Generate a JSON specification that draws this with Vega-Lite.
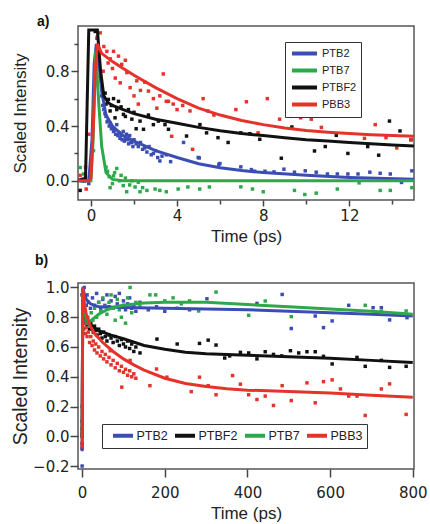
{
"$schema":"https://vega.github.io/schema/vega-lite/v6.json",
"padding":{"left":9,"top":14,"right":0,"bottom":4},
"spacing":8,
"config":{"font":"Liberation Sans","view":{"stroke":"#555","strokeWidth":1.5},
"axis":{"domain":false,"grid":false,"labelFont":"DejaVu Sans","labelFontSize":15,"labelColor":"#222","titleFontSize":17,"titleFontWeight":"normal","titleColor":"#222","tickColor":"#444","tickWidth":1.5,"tickSize":7,"labelPadding":2,"labelOverlap":false},
"title":{"fontSize":14,"fontWeight":"bold","anchor":"start","frame":"group","color":"#111"}},
"resolve":{"scale":{"color":"independent"},"legend":{"color":"independent"}},
"datasets":{
"aP":[
{"s":"PTB2","t":-0.4,"v":0.0},{"s":"PTB2","t":-0.25,"v":0.02},{"s":"PTB2","t":-0.1,"v":-0.02},{"s":"PTB2","t":0.28,"v":1.04},{"s":"PTB2","t":0.35,"v":0.94},{"s":"PTB2","t":0.43,"v":0.76},{"s":"PTB2","t":0.5,"v":0.62},{"s":"PTB2","t":0.55,"v":0.55},{"s":"PTB2","t":0.6,"v":0.52},{"s":"PTB2","t":0.65,"v":0.49},{"s":"PTB2","t":0.7,"v":0.47},{"s":"PTB2","t":0.75,"v":0.43},{"s":"PTB2","t":0.8,"v":0.44},{"s":"PTB2","t":0.85,"v":0.4},{"s":"PTB2","t":0.9,"v":0.42},{"s":"PTB2","t":0.95,"v":0.38},{"s":"PTB2","t":1.0,"v":0.39},{"s":"PTB2","t":1.05,"v":0.36},{"s":"PTB2","t":1.1,"v":0.37},{"s":"PTB2","t":1.15,"v":0.34},{"s":"PTB2","t":1.2,"v":0.41},{"s":"PTB2","t":1.25,"v":0.33},{"s":"PTB2","t":1.3,"v":0.35},{"s":"PTB2","t":1.35,"v":0.31},{"s":"PTB2","t":1.4,"v":0.33},{"s":"PTB2","t":1.45,"v":0.3},{"s":"PTB2","t":1.5,"v":0.36},{"s":"PTB2","t":1.55,"v":0.29},{"s":"PTB2","t":1.6,"v":0.31},{"s":"PTB2","t":1.65,"v":0.34},{"s":"PTB2","t":1.7,"v":0.3},{"s":"PTB2","t":1.75,"v":0.27},{"s":"PTB2","t":1.8,"v":0.33},{"s":"PTB2","t":1.85,"v":0.28},{"s":"PTB2","t":1.9,"v":0.28},{"s":"PTB2","t":1.95,"v":0.25},{"s":"PTB2","t":2.0,"v":0.3},{"s":"PTB2","t":2.1,"v":0.27},{"s":"PTB2","t":2.2,"v":0.25},{"s":"PTB2","t":2.3,"v":0.28},{"s":"PTB2","t":2.4,"v":0.23},{"s":"PTB2","t":2.5,"v":0.24},{"s":"PTB2","t":2.6,"v":0.21},{"s":"PTB2","t":2.7,"v":0.25},{"s":"PTB2","t":2.8,"v":0.19},{"s":"PTB2","t":2.9,"v":0.2},{"s":"PTB2","t":3.0,"v":0.22},{"s":"PTB2","t":3.1,"v":0.17},{"s":"PTB2","t":3.2,"v":0.145},{"s":"PTB2","t":3.3,"v":0.18},{"s":"PTB2","t":3.5,"v":0.19},{"s":"PTB2","t":3.7,"v":0.14},{"s":"PTB2","t":4.3,"v":0.28},{"s":"PTB2","t":4.98,"v":0.17},{"s":"PTB2","t":5.03,"v":0.167},{"s":"PTB2","t":5.94,"v":0.121},{"s":"PTB2","t":5.99,"v":0.126},{"s":"PTB2","t":6.96,"v":0.102},{"s":"PTB2","t":7.45,"v":0.082},{"s":"PTB2","t":7.6,"v":0.07},{"s":"PTB2","t":8.08,"v":0.07},{"s":"PTB2","t":8.5,"v":0.065},{"s":"PTB2","t":8.96,"v":0.085},{"s":"PTB2","t":9.45,"v":0.063},{"s":"PTB2","t":9.95,"v":0.073},{"s":"PTB2","t":10.46,"v":0.063},{"s":"PTB2","t":10.98,"v":0.05},{"s":"PTB2","t":11.44,"v":0.05},{"s":"PTB2","t":11.93,"v":0.05},{"s":"PTB2","t":12.4,"v":0.05},{"s":"PTB2","t":12.95,"v":0.063},{"s":"PTB2","t":13.43,"v":0.055},{"s":"PTB2","t":13.9,"v":0.05},{"s":"PTB2","t":14.42,"v":-0.012},{"s":"PTB2","t":14.9,"v":0.073},
{"s":"PTB7","t":-0.5,"v":0.097},{"s":"PTB7","t":-0.34,"v":0.05},{"s":"PTB7","t":0.12,"v":0.22},{"s":"PTB7","t":0.7,"v":0.1},{"s":"PTB7","t":0.77,"v":0.07},{"s":"PTB7","t":0.85,"v":0.03},{"s":"PTB7","t":0.89,"v":-0.05},{"s":"PTB7","t":1.0,"v":-0.02},{"s":"PTB7","t":1.05,"v":0.036},{"s":"PTB7","t":1.1,"v":0.06},{"s":"PTB7","t":1.2,"v":0.09},{"s":"PTB7","t":1.33,"v":0.0},{"s":"PTB7","t":1.4,"v":0.04},{"s":"PTB7","t":1.5,"v":-0.035},{"s":"PTB7","t":1.6,"v":0.02},{"s":"PTB7","t":1.66,"v":-0.08},{"s":"PTB7","t":1.8,"v":-0.03},{"s":"PTB7","t":1.9,"v":0.0},{"s":"PTB7","t":2.05,"v":-0.045},{"s":"PTB7","t":2.2,"v":-0.01},{"s":"PTB7","t":2.28,"v":-0.08},{"s":"PTB7","t":2.4,"v":-0.05},{"s":"PTB7","t":2.6,"v":-0.07},{"s":"PTB7","t":2.98,"v":-0.06},{"s":"PTB7","t":3.2,"v":-0.07},{"s":"PTB7","t":3.5,"v":-0.08},{"s":"PTB7","t":4.05,"v":-0.06},{"s":"PTB7","t":4.5,"v":-0.045},{"s":"PTB7","t":5.05,"v":-0.06},{"s":"PTB7","t":5.5,"v":-0.045},{"s":"PTB7","t":6.96,"v":-0.044},{"s":"PTB7","t":7.5,"v":-0.06},{"s":"PTB7","t":8.0,"v":-0.08},{"s":"PTB7","t":9.45,"v":-0.07},{"s":"PTB7","t":9.93,"v":-0.1},{"s":"PTB7","t":10.46,"v":-0.09},{"s":"PTB7","t":11.44,"v":-0.06},{"s":"PTB7","t":12.45,"v":-0.015},{"s":"PTB7","t":13.43,"v":-0.07},{"s":"PTB7","t":13.9,"v":-0.07},{"s":"PTB7","t":14.9,"v":-0.05},
{"s":"PTBF2","t":-0.5,"v":-0.07},{"s":"PTBF2","t":-0.3,"v":0.0},{"s":"PTBF2","t":0.2,"v":1.09},{"s":"PTBF2","t":0.66,"v":0.64},{"s":"PTBF2","t":0.7,"v":0.56},{"s":"PTBF2","t":0.81,"v":0.594},{"s":"PTBF2","t":0.89,"v":0.51},{"s":"PTBF2","t":0.95,"v":0.55},{"s":"PTBF2","t":1.05,"v":0.6},{"s":"PTBF2","t":1.12,"v":0.46},{"s":"PTBF2","t":1.2,"v":0.52},{"s":"PTBF2","t":1.28,"v":0.58},{"s":"PTBF2","t":1.4,"v":0.54},{"s":"PTBF2","t":1.51,"v":0.485},{"s":"PTBF2","t":1.6,"v":0.47},{"s":"PTBF2","t":1.74,"v":0.52},{"s":"PTBF2","t":1.9,"v":0.45},{"s":"PTBF2","t":2.0,"v":0.5},{"s":"PTBF2","t":2.1,"v":0.38},{"s":"PTBF2","t":2.28,"v":0.436},{"s":"PTBF2","t":2.44,"v":0.376},{"s":"PTBF2","t":2.67,"v":0.48},{"s":"PTBF2","t":2.9,"v":0.41},{"s":"PTBF2","t":3.13,"v":0.436},{"s":"PTBF2","t":3.44,"v":0.41},{"s":"PTBF2","t":3.6,"v":0.376},{"s":"PTBF2","t":4.44,"v":0.327},{"s":"PTBF2","t":5.06,"v":0.41},{"s":"PTBF2","t":5.37,"v":0.35},{"s":"PTBF2","t":5.9,"v":0.315},{"s":"PTBF2","t":6.37,"v":0.28},{"s":"PTBF2","t":6.96,"v":0.35},{"s":"PTBF2","t":7.38,"v":0.344},{"s":"PTBF2","t":7.84,"v":0.303},{"s":"PTBF2","t":8.84,"v":0.165},{"s":"PTBF2","t":9.33,"v":0.393},{"s":"PTBF2","t":10.38,"v":0.218},{"s":"PTBF2","t":10.88,"v":0.25},{"s":"PTBF2","t":11.39,"v":0.332},{"s":"PTBF2","t":11.93,"v":0.2},{"s":"PTBF2","t":12.85,"v":0.25},{"s":"PTBF2","t":13.36,"v":0.187},{"s":"PTBF2","t":13.86,"v":0.436},{"s":"PTBF2","t":14.35,"v":0.364},{"s":"PTBF2","t":14.86,"v":0.3},
{"s":"PBB3","t":-0.5,"v":0.04},{"s":"PBB3","t":-0.25,"v":0.1},{"s":"PBB3","t":-0.22,"v":-0.06},{"s":"PBB3","t":-0.1,"v":0.34},{"s":"PBB3","t":0.3,"v":1.05},{"s":"PBB3","t":0.43,"v":1.08},{"s":"PBB3","t":0.57,"v":0.8},{"s":"PBB3","t":0.6,"v":0.98},{"s":"PBB3","t":0.74,"v":0.945},{"s":"PBB3","t":0.8,"v":0.86},{"s":"PBB3","t":0.9,"v":0.89},{"s":"PBB3","t":1.0,"v":0.82},{"s":"PBB3","t":1.05,"v":0.945},{"s":"PBB3","t":1.13,"v":0.75},{"s":"PBB3","t":1.28,"v":0.91},{"s":"PBB3","t":1.36,"v":0.715},{"s":"PBB3","t":1.43,"v":0.85},{"s":"PBB3","t":1.6,"v":0.88},{"s":"PBB3","t":1.67,"v":0.79},{"s":"PBB3","t":1.82,"v":0.68},{"s":"PBB3","t":2.0,"v":0.62},{"s":"PBB3","t":2.13,"v":0.73},{"s":"PBB3","t":2.2,"v":0.56},{"s":"PBB3","t":2.3,"v":0.66},{"s":"PBB3","t":2.5,"v":0.72},{"s":"PBB3","t":2.67,"v":0.655},{"s":"PBB3","t":2.9,"v":0.6},{"s":"PBB3","t":3.06,"v":0.53},{"s":"PBB3","t":3.2,"v":0.62},{"s":"PBB3","t":3.36,"v":0.78},{"s":"PBB3","t":3.5,"v":0.58},{"s":"PBB3","t":3.6,"v":0.58},{"s":"PBB3","t":3.75,"v":0.325},{"s":"PBB3","t":3.82,"v":0.56},{"s":"PBB3","t":4.0,"v":0.52},{"s":"PBB3","t":4.26,"v":0.55},{"s":"PBB3","t":4.6,"v":0.51},{"s":"PBB3","t":4.72,"v":0.23},{"s":"PBB3","t":5.21,"v":0.6},{"s":"PBB3","t":5.43,"v":0.51},{"s":"PBB3","t":5.71,"v":0.48},{"s":"PBB3","t":6.73,"v":0.52},{"s":"PBB3","t":7.22,"v":0.577},{"s":"PBB3","t":7.76,"v":0.35},{"s":"PBB3","t":8.19,"v":0.6},{"s":"PBB3","t":8.76,"v":0.45},{"s":"PBB3","t":9.27,"v":0.5},{"s":"PBB3","t":9.74,"v":0.46},{"s":"PBB3","t":10.23,"v":0.45},{"s":"PBB3","t":10.7,"v":0.39},{"s":"PBB3","t":11.23,"v":0.485},{"s":"PBB3","t":11.7,"v":0.485},{"s":"PBB3","t":12.16,"v":0.485},{"s":"PBB3","t":12.7,"v":0.31},{"s":"PBB3","t":13.2,"v":0.41},{"s":"PBB3","t":13.7,"v":0.315},{"s":"PBB3","t":14.2,"v":0.24},{"s":"PBB3","t":14.86,"v":0.3}
],
"aF":[
{"s":"PTB2","t":-0.7,"v":0},{"s":"PTB2","t":-0.1,"v":0},{"s":"PTB2","t":0.05,"v":0.3},{"s":"PTB2","t":0.15,"v":0.85},{"s":"PTB2","t":0.25,"v":1.0},{"s":"PTB2","t":0.35,"v":0.9},{"s":"PTB2","t":0.5,"v":0.65},{"s":"PTB2","t":0.7,"v":0.48},{"s":"PTB2","t":1,"v":0.4},{"s":"PTB2","t":1.5,"v":0.33},{"s":"PTB2","t":2,"v":0.29},{"s":"PTB2","t":3,"v":0.22},{"s":"PTB2","t":4,"v":0.17},{"s":"PTB2","t":5,"v":0.125},{"s":"PTB2","t":6,"v":0.095},{"s":"PTB2","t":7,"v":0.075},{"s":"PTB2","t":8,"v":0.06},{"s":"PTB2","t":10,"v":0.04},{"s":"PTB2","t":12,"v":0.025},{"s":"PTB2","t":15,"v":0.012},
{"s":"PTB7","t":-0.7,"v":0},{"s":"PTB7","t":0,"v":0},{"s":"PTB7","t":0.1,"v":0.3},{"s":"PTB7","t":0.22,"v":0.95},{"s":"PTB7","t":0.35,"v":0.6},{"s":"PTB7","t":0.5,"v":0.25},{"s":"PTB7","t":0.7,"v":0.06},{"s":"PTB7","t":1,"v":0.01},{"s":"PTB7","t":1.5,"v":0},{"s":"PTB7","t":15,"v":0},
{"s":"PTBF2","t":-0.7,"v":0},{"s":"PTBF2","t":-0.25,"v":0.02},{"s":"PTBF2","t":-0.1,"v":1.1},{"s":"PTBF2","t":0.3,"v":1.1},{"s":"PTBF2","t":0.45,"v":0.8},{"s":"PTBF2","t":0.6,"v":0.62},{"s":"PTBF2","t":0.8,"v":0.57},{"s":"PTBF2","t":1,"v":0.55},{"s":"PTBF2","t":1.5,"v":0.52},{"s":"PTBF2","t":2,"v":0.49},{"s":"PTBF2","t":3,"v":0.45},{"s":"PTBF2","t":4,"v":0.42},{"s":"PTBF2","t":5,"v":0.39},{"s":"PTBF2","t":6,"v":0.365},{"s":"PTBF2","t":7,"v":0.345},{"s":"PTBF2","t":8,"v":0.33},{"s":"PTBF2","t":9,"v":0.315},{"s":"PTBF2","t":10,"v":0.3},{"s":"PTBF2","t":11,"v":0.29},{"s":"PTBF2","t":12,"v":0.28},{"s":"PTBF2","t":13,"v":0.27},{"s":"PTBF2","t":14,"v":0.262},{"s":"PTBF2","t":15,"v":0.255},
{"s":"PBB3","t":-0.7,"v":0},{"s":"PBB3","t":-0.1,"v":0},{"s":"PBB3","t":0,"v":0.02},{"s":"PBB3","t":0.1,"v":0.35},{"s":"PBB3","t":0.2,"v":0.8},{"s":"PBB3","t":0.3,"v":1.0},{"s":"PBB3","t":0.5,"v":0.93},{"s":"PBB3","t":1,"v":0.87},{"s":"PBB3","t":1.5,"v":0.82},{"s":"PBB3","t":2,"v":0.77},{"s":"PBB3","t":3,"v":0.68},{"s":"PBB3","t":4,"v":0.6},{"s":"PBB3","t":5,"v":0.53},{"s":"PBB3","t":6,"v":0.48},{"s":"PBB3","t":7,"v":0.44},{"s":"PBB3","t":8,"v":0.41},{"s":"PBB3","t":9,"v":0.385},{"s":"PBB3","t":10,"v":0.368},{"s":"PBB3","t":11,"v":0.355},{"s":"PBB3","t":12,"v":0.345},{"s":"PBB3","t":13,"v":0.337},{"s":"PBB3","t":14,"v":0.33},{"s":"PBB3","t":15,"v":0.325}
],
"bP":[
{"s":"PTB2","t":0,"v":-0.2},{"s":"PTB2","t":0,"v":-0.08},{"s":"PTB2","t":0,"v":0.05},{"s":"PTB2","t":0,"v":0.1},{"s":"PTB2","t":2,"v":0.98},{"s":"PTB2","t":5,"v":1.0},{"s":"PTB2","t":8,"v":0.93},{"s":"PTB2","t":10,"v":0.88},{"s":"PTB2","t":12,"v":0.95},{"s":"PTB2","t":15,"v":0.9},{"s":"PTB2","t":20,"v":0.86},{"s":"PTB2","t":25,"v":0.93},{"s":"PTB2","t":30,"v":0.88},{"s":"PTB2","t":35,"v":0.96},{"s":"PTB2","t":40,"v":0.9},{"s":"PTB2","t":45,"v":0.85},{"s":"PTB2","t":50,"v":0.92},{"s":"PTB2","t":55,"v":0.88},{"s":"PTB2","t":60,"v":0.95},{"s":"PTB2","t":65,"v":0.87},{"s":"PTB2","t":70,"v":0.91},{"s":"PTB2","t":75,"v":0.86},{"s":"PTB2","t":80,"v":0.94},{"s":"PTB2","t":85,"v":0.89},{"s":"PTB2","t":90,"v":0.96},{"s":"PTB2","t":95,"v":0.87},{"s":"PTB2","t":100,"v":0.91},{"s":"PTB2","t":105,"v":0.85},{"s":"PTB2","t":110,"v":0.89},{"s":"PTB2","t":115,"v":0.93},{"s":"PTB2","t":120,"v":0.86},{"s":"PTB2","t":125,"v":0.88},{"s":"PTB2","t":130,"v":0.84},{"s":"PTB2","t":140,"v":0.9},{"s":"PTB2","t":160,"v":0.85},{"s":"PTB2","t":180,"v":0.87},{"s":"PTB2","t":200,"v":0.84},{"s":"PTB2","t":230,"v":0.86},{"s":"PTB2","t":260,"v":0.85},{"s":"PTB2","t":302,"v":0.924},{"s":"PTB2","t":423,"v":0.893},{"s":"PTB2","t":484,"v":0.953},{"s":"PTB2","t":506,"v":0.724},{"s":"PTB2","t":564,"v":0.808},{"s":"PTB2","t":584,"v":0.73},{"s":"PTB2","t":605,"v":0.775},{"s":"PTB2","t":645,"v":0.88},{"s":"PTB2","t":704,"v":0.864},{"s":"PTB2","t":724,"v":0.864},{"s":"PTB2","t":744,"v":0.782},{"s":"PTB2","t":786,"v":0.797},
{"s":"PTBF2","t":0,"v":0.0},{"s":"PTBF2","t":0,"v":-0.05},{"s":"PTBF2","t":0,"v":0.95},{"s":"PTBF2","t":2,"v":0.85},{"s":"PTBF2","t":4,"v":0.78},{"s":"PTBF2","t":6,"v":0.82},{"s":"PTBF2","t":8,"v":0.76},{"s":"PTBF2","t":10,"v":0.79},{"s":"PTBF2","t":12,"v":0.74},{"s":"PTBF2","t":15,"v":0.77},{"s":"PTBF2","t":18,"v":0.72},{"s":"PTBF2","t":21,"v":0.76},{"s":"PTBF2","t":24,"v":0.73},{"s":"PTBF2","t":27,"v":0.7},{"s":"PTBF2","t":30,"v":0.74},{"s":"PTBF2","t":33,"v":0.71},{"s":"PTBF2","t":36,"v":0.68},{"s":"PTBF2","t":40,"v":0.72},{"s":"PTBF2","t":44,"v":0.69},{"s":"PTBF2","t":48,"v":0.66},{"s":"PTBF2","t":52,"v":0.7},{"s":"PTBF2","t":56,"v":0.67},{"s":"PTBF2","t":60,"v":0.64},{"s":"PTBF2","t":65,"v":0.68},{"s":"PTBF2","t":70,"v":0.66},{"s":"PTBF2","t":75,"v":0.63},{"s":"PTBF2","t":80,"v":0.67},{"s":"PTBF2","t":85,"v":0.64},{"s":"PTBF2","t":90,"v":0.61},{"s":"PTBF2","t":95,"v":0.65},{"s":"PTBF2","t":100,"v":0.62},{"s":"PTBF2","t":105,"v":0.6},{"s":"PTBF2","t":110,"v":0.64},{"s":"PTBF2","t":115,"v":0.59},{"s":"PTBF2","t":120,"v":0.62},{"s":"PTBF2","t":125,"v":0.57},{"s":"PTBF2","t":130,"v":0.6},{"s":"PTBF2","t":140,"v":0.56},{"s":"PTBF2","t":181,"v":0.653},{"s":"PTBF2","t":230,"v":0.62},{"s":"PTBF2","t":284,"v":0.624},{"s":"PTBF2","t":305,"v":0.646},{"s":"PTBF2","t":324,"v":0.613},{"s":"PTBF2","t":345,"v":0.526},{"s":"PTBF2","t":357,"v":0.54},{"s":"PTBF2","t":383,"v":0.564},{"s":"PTBF2","t":403,"v":0.56},{"s":"PTBF2","t":423,"v":0.52},{"s":"PTBF2","t":443,"v":0.568},{"s":"PTBF2","t":463,"v":0.55},{"s":"PTBF2","t":483,"v":0.54},{"s":"PTBF2","t":504,"v":0.575},{"s":"PTBF2","t":524,"v":0.56},{"s":"PTBF2","t":544,"v":0.568},{"s":"PTBF2","t":564,"v":0.568},{"s":"PTBF2","t":584,"v":0.537},{"s":"PTBF2","t":605,"v":0.486},{"s":"PTBF2","t":665,"v":0.53},{"s":"PTBF2","t":685,"v":0.47},{"s":"PTBF2","t":724,"v":0.51},{"s":"PTBF2","t":744,"v":0.463},{"s":"PTBF2","t":784,"v":0.47},
{"s":"PTB7","t":0,"v":0.02},{"s":"PTB7","t":3,"v":0.82},{"s":"PTB7","t":6,"v":0.78},{"s":"PTB7","t":10,"v":0.76},{"s":"PTB7","t":14,"v":0.8},{"s":"PTB7","t":18,"v":0.74},{"s":"PTB7","t":22,"v":0.83},{"s":"PTB7","t":26,"v":0.78},{"s":"PTB7","t":30,"v":0.86},{"s":"PTB7","t":35,"v":0.8},{"s":"PTB7","t":40,"v":0.9},{"s":"PTB7","t":45,"v":0.84},{"s":"PTB7","t":50,"v":0.93},{"s":"PTB7","t":55,"v":0.87},{"s":"PTB7","t":60,"v":0.82},{"s":"PTB7","t":65,"v":0.9},{"s":"PTB7","t":70,"v":0.95},{"s":"PTB7","t":75,"v":0.86},{"s":"PTB7","t":80,"v":0.78},{"s":"PTB7","t":85,"v":0.92},{"s":"PTB7","t":90,"v":0.85},{"s":"PTB7","t":95,"v":0.8},{"s":"PTB7","t":100,"v":0.88},{"s":"PTB7","t":105,"v":0.76},{"s":"PTB7","t":110,"v":0.93},{"s":"PTB7","t":116,"v":1.0},{"s":"PTB7","t":120,"v":0.83},{"s":"PTB7","t":130,"v":0.9},{"s":"PTB7","t":140,"v":0.87},{"s":"PTB7","t":164,"v":0.95},{"s":"PTB7","t":178,"v":0.95},{"s":"PTB7","t":200,"v":0.91},{"s":"PTB7","t":220,"v":0.93},{"s":"PTB7","t":240,"v":0.89},{"s":"PTB7","t":260,"v":0.91},{"s":"PTB7","t":282,"v":0.842},{"s":"PTB7","t":324,"v":0.969},{"s":"PTB7","t":403,"v":0.813},{"s":"PTB7","t":443,"v":0.909},{"s":"PTB7","t":506,"v":0.804},{"s":"PTB7","t":685,"v":0.88},{"s":"PTB7","t":724,"v":0.84},{"s":"PTB7","t":784,"v":0.842},
{"s":"PBB3","t":0,"v":-0.08},{"s":"PBB3","t":0,"v":0.2},{"s":"PBB3","t":2,"v":0.8},{"s":"PBB3","t":4,"v":0.72},{"s":"PBB3","t":6,"v":0.76},{"s":"PBB3","t":8,"v":0.69},{"s":"PBB3","t":10,"v":0.73},{"s":"PBB3","t":12,"v":0.67},{"s":"PBB3","t":15,"v":0.7},{"s":"PBB3","t":18,"v":0.63},{"s":"PBB3","t":21,"v":0.67},{"s":"PBB3","t":24,"v":0.61},{"s":"PBB3","t":27,"v":0.64},{"s":"PBB3","t":30,"v":0.58},{"s":"PBB3","t":33,"v":0.62},{"s":"PBB3","t":36,"v":0.56},{"s":"PBB3","t":40,"v":0.6},{"s":"PBB3","t":44,"v":0.54},{"s":"PBB3","t":48,"v":0.57},{"s":"PBB3","t":52,"v":0.52},{"s":"PBB3","t":56,"v":0.55},{"s":"PBB3","t":60,"v":0.5},{"s":"PBB3","t":65,"v":0.53},{"s":"PBB3","t":68,"v":0.575},{"s":"PBB3","t":70,"v":0.48},{"s":"PBB3","t":75,"v":0.51},{"s":"PBB3","t":80,"v":0.46},{"s":"PBB3","t":85,"v":0.49},{"s":"PBB3","t":90,"v":0.44},{"s":"PBB3","t":95,"v":0.47},{"s":"PBB3","t":96,"v":0.33},{"s":"PBB3","t":100,"v":0.43},{"s":"PBB3","t":105,"v":0.45},{"s":"PBB3","t":110,"v":0.41},{"s":"PBB3","t":115,"v":0.44},{"s":"PBB3","t":116,"v":0.51},{"s":"PBB3","t":120,"v":0.4},{"s":"PBB3","t":125,"v":0.42},{"s":"PBB3","t":130,"v":0.39},{"s":"PBB3","t":164,"v":0.34},{"s":"PBB3","t":180,"v":0.452},{"s":"PBB3","t":205,"v":0.397},{"s":"PBB3","t":264,"v":0.3},{"s":"PBB3","t":284,"v":0.397},{"s":"PBB3","t":305,"v":0.34},{"s":"PBB3","t":324,"v":0.279},{"s":"PBB3","t":364,"v":0.408},{"s":"PBB3","t":383,"v":0.35},{"s":"PBB3","t":403,"v":0.279},{"s":"PBB3","t":423,"v":0.247},{"s":"PBB3","t":443,"v":0.27},{"s":"PBB3","t":463,"v":0.207},{"s":"PBB3","t":484,"v":0.34},{"s":"PBB3","t":506,"v":0.24},{"s":"PBB3","t":544,"v":0.359},{"s":"PBB3","t":564,"v":0.225},{"s":"PBB3","t":584,"v":0.367},{"s":"PBB3","t":605,"v":0.379},{"s":"PBB3","t":625,"v":0.318},{"s":"PBB3","t":645,"v":0.27},{"s":"PBB3","t":665,"v":0.27},{"s":"PBB3","t":685,"v":0.14},{"s":"PBB3","t":724,"v":0.318},{"s":"PBB3","t":744,"v":0.352},{"s":"PBB3","t":784,"v":0.147}
],
"bF":[
{"s":"PTB2","t":0,"v":-0.1},{"s":"PTB2","t":1.5,"v":1.0},{"s":"PTB2","t":5,"v":0.96},{"s":"PTB2","t":10,"v":0.92},{"s":"PTB2","t":20,"v":0.89},{"s":"PTB2","t":40,"v":0.87},{"s":"PTB2","t":100,"v":0.865},{"s":"PTB2","t":200,"v":0.86},{"s":"PTB2","t":300,"v":0.855},{"s":"PTB2","t":400,"v":0.85},{"s":"PTB2","t":500,"v":0.84},{"s":"PTB2","t":600,"v":0.83},{"s":"PTB2","t":700,"v":0.82},{"s":"PTB2","t":800,"v":0.808},
{"s":"PTBF2","t":0,"v":0.0},{"s":"PTBF2","t":1.5,"v":0.92},{"s":"PTBF2","t":5,"v":0.83},{"s":"PTBF2","t":10,"v":0.79},{"s":"PTBF2","t":20,"v":0.75},{"s":"PTBF2","t":40,"v":0.71},{"s":"PTBF2","t":70,"v":0.68},{"s":"PTBF2","t":100,"v":0.655},{"s":"PTBF2","t":150,"v":0.61},{"s":"PTBF2","t":200,"v":0.585},{"s":"PTBF2","t":250,"v":0.565},{"s":"PTBF2","t":300,"v":0.555},{"s":"PTBF2","t":400,"v":0.545},{"s":"PTBF2","t":500,"v":0.535},{"s":"PTBF2","t":600,"v":0.525},{"s":"PTBF2","t":700,"v":0.51},{"s":"PTBF2","t":800,"v":0.495},
{"s":"PTB7","t":0,"v":0.0},{"s":"PTB7","t":1.5,"v":0.95},{"s":"PTB7","t":5,"v":0.85},{"s":"PTB7","t":10,"v":0.79},{"s":"PTB7","t":16,"v":0.765},{"s":"PTB7","t":25,"v":0.785},{"s":"PTB7","t":40,"v":0.82},{"s":"PTB7","t":60,"v":0.85},{"s":"PTB7","t":80,"v":0.87},{"s":"PTB7","t":100,"v":0.88},{"s":"PTB7","t":150,"v":0.895},{"s":"PTB7","t":200,"v":0.9},{"s":"PTB7","t":300,"v":0.9},{"s":"PTB7","t":400,"v":0.885},{"s":"PTB7","t":500,"v":0.87},{"s":"PTB7","t":600,"v":0.855},{"s":"PTB7","t":700,"v":0.84},{"s":"PTB7","t":800,"v":0.82},
{"s":"PBB3","t":0,"v":-0.08},{"s":"PBB3","t":1.5,"v":1.0},{"s":"PBB3","t":5,"v":0.9},{"s":"PBB3","t":10,"v":0.82},{"s":"PBB3","t":20,"v":0.74},{"s":"PBB3","t":30,"v":0.69},{"s":"PBB3","t":50,"v":0.63},{"s":"PBB3","t":75,"v":0.57},{"s":"PBB3","t":100,"v":0.52},{"s":"PBB3","t":125,"v":0.48},{"s":"PBB3","t":150,"v":0.445},{"s":"PBB3","t":200,"v":0.39},{"s":"PBB3","t":250,"v":0.355},{"s":"PBB3","t":300,"v":0.335},{"s":"PBB3","t":350,"v":0.32},{"s":"PBB3","t":400,"v":0.31},{"s":"PBB3","t":500,"v":0.3},{"s":"PBB3","t":600,"v":0.29},{"s":"PBB3","t":700,"v":0.275},{"s":"PBB3","t":800,"v":0.262}
]
},
"vconcat":[
{
"width":336,"height":174,
"title":{"text":"a)","dx":-41,"offset":-3},
"resolve":{"axis":{"x":"independent","y":"independent"}},
"layer":[
{"data":{"name":"aP"},"mark":{"type":"square","size":12,"opacity":1,"clip":true},
"encoding":{
"x":{"field":"t","type":"quantitative","scale":{"domain":[-0.6,15],"nice":false,"zero":false},"axis":{"orient":"bottom","values":[0,4,8,12],"format":"d","title":"Time (ps)","tickSize":6,"titlePadding":5}},
"y":{"field":"v","type":"quantitative","scale":{"domain":[-0.14,1.13],"nice":false,"zero":false},"axis":{"orient":"left","values":[0,0.4,0.8],"format":".1f","title":"Scaled Intensity","titlePadding":16}},
"color":{"field":"s","type":"nominal","scale":{"domain":["PTB2","PTB7","PTBF2","PBB3"],"range":["#3b4db3","#2da84b","#111111","#e5332b"]},"legend":{"orient":"none","legendX":207,"legendY":16,"title":null,"symbolType":"M-2.27,0H2.27","symbolStrokeWidth":4,"symbolSize":121,"symbolOffset":8,"labelFontSize":11,"labelColor":"#222","strokeColor":"#333","fillColor":"white","padding":4,"rowPadding":0,"labelOffset":10}}}},
{"data":{"name":"aF"},"mark":{"type":"line","strokeWidth":3,"clip":true},
"encoding":{
"x":{"field":"t","type":"quantitative","axis":{"orient":"bottom","values":[2,6,10,14],"labels":false,"tickSize":4,"title":null}},
"y":{"field":"v","type":"quantitative","axis":{"orient":"left","values":[0.2,0.6,1.0],"labels":false,"tickSize":4,"title":null}},
"color":{"field":"s","type":"nominal","legend":{"orient":"none","legendX":207,"legendY":16,"title":null,"symbolType":"M-2.27,0H2.27","symbolStrokeWidth":4,"symbolSize":121,"symbolOffset":8,"labelFontSize":11,"labelColor":"#222","strokeColor":"#333","fillColor":"white","padding":4,"rowPadding":0,"labelOffset":10}}}}
]
},
{
"width":336,"height":186,
"title":{"text":"b)","dx":-43,"offset":12},
"resolve":{"axis":{"y":"independent"}},
"layer":[
{"data":{"name":"bP"},"mark":{"type":"square","size":12,"opacity":1,"clip":true},
"encoding":{
"x":{"field":"t","type":"quantitative","scale":{"domain":[-10,803],"nice":false,"zero":false},"axis":{"values":[0,200,400,600,800],"format":"d","title":"Time (ps)","tickSize":8,"labelPadding":8,"titlePadding":5}},
"y":{"field":"v","type":"quantitative","scale":{"domain":[-0.22,1.03],"nice":false,"zero":false},"axis":{"orient":"left","values":[-0.2,0.2,0.6,1.0],"format":".1f","labelOverlap":false,"title":"Scaled Intensity","titleFontSize":19.5,"titlePadding":2,"tickSize":8,"labelPadding":1}},
"color":{"field":"s","type":"nominal","scale":{"domain":["PTB2","PTBF2","PTB7","PBB3"],"range":["#3b4db3","#111111","#2da84b","#e5332b"]},"legend":{"orient":"none","legendX":24,"legendY":141,"direction":"horizontal","title":null,"symbolType":"M-1.82,0H1.82","symbolStrokeWidth":4,"symbolSize":121,"symbolOffset":9.5,"labelFontSize":12.5,"labelColor":"#222","strokeColor":"#333","fillColor":"white","padding":4,"columnPadding":-3,"labelOffset":6}}}},
{"data":{"name":"bF"},"mark":{"type":"line","strokeWidth":3,"clip":true},
"encoding":{
"x":{"field":"t","type":"quantitative"},
"y":{"field":"v","type":"quantitative","axis":{"orient":"left","values":[0,0.4,0.8],"format":".1f","labelOverlap":false,"title":null,"tickSize":8,"labelPadding":1}},
"color":{"field":"s","type":"nominal","legend":{"orient":"none","legendX":24,"legendY":141,"direction":"horizontal","title":null,"symbolType":"M-1.82,0H1.82","symbolStrokeWidth":4,"symbolSize":121,"symbolOffset":9.5,"labelFontSize":12.5,"labelColor":"#222","strokeColor":"#333","fillColor":"white","padding":4,"columnPadding":-3,"labelOffset":6}}}}
]
}
]
}
